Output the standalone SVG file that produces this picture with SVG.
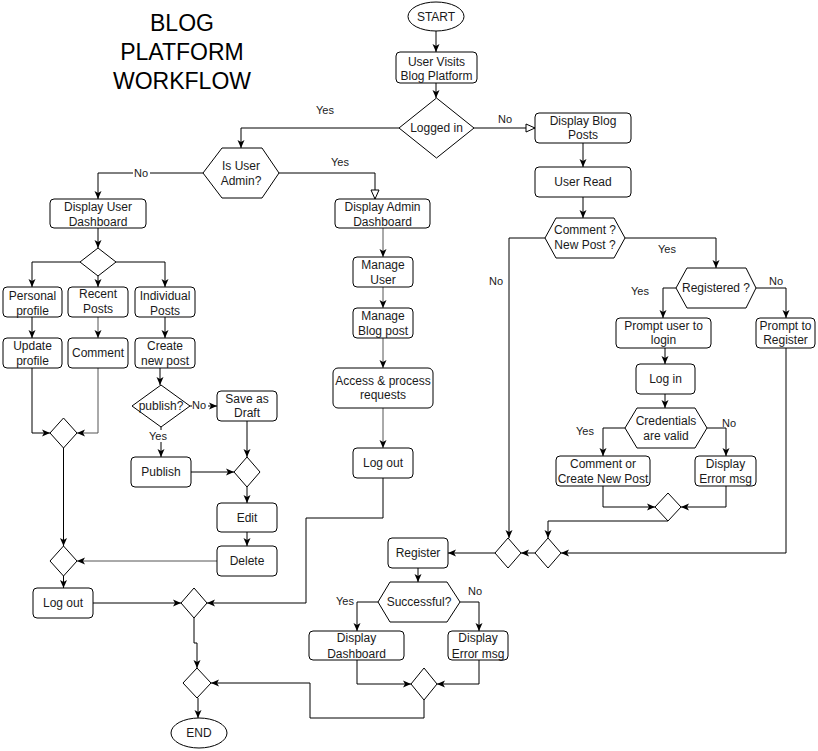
<svg xmlns="http://www.w3.org/2000/svg" width="818" height="751" viewBox="0 0 818 751">
<style>
.n rect,.n polygon,.n ellipse{fill:#fff;stroke:#000;stroke-width:1}
text{font-family:"Liberation Sans",Arial,sans-serif;font-size:12px;fill:#1a1a1a;text-anchor:middle}
.t{font-size:23px;fill:#000}
.l{font-size:11px}
.c path{fill:none;stroke:#000;stroke-width:1;marker-end:url(#a)}
.c path.o{marker-end:url(#o)}
.c path.g{stroke:#555}
.bg{fill:#fff;stroke:none}
</style>
<defs>
<marker id="a" markerWidth="10" markerHeight="10" refX="9" refY="5" orient="auto" markerUnits="userSpaceOnUse"><path d="M1,1.5 L9,5 L1,8.5 L3,5 z" fill="#000" stroke="none"/></marker>
<marker id="o" markerWidth="12" markerHeight="12" refX="10" refY="6" orient="auto" markerUnits="userSpaceOnUse"><path d="M1,2 L10,6 L1,10 z" fill="#fff" stroke="#000" stroke-width="1"/></marker>
</defs>
<rect width="818" height="751" fill="#fff"/>
<g id="title"><text class="t" x="182" y="31">BLOG</text><text class="t" x="182" y="60">PLATFORM</text><text class="t" x="182" y="89">WORKFLOW</text></g>

<g id="connectors" class="c">
<path d="M436,31 V52"/>
<path d="M436,83 V98"/>
<path class="o" d="M474,128 H535"/>
<path d="M399,128 H241 V148"/>
<path d="M583,143 V167"/>
<path d="M583,197 V218"/>
<path d="M625,238 H716 V268"/>
<path d="M545,238 H509 V538"/>
<path d="M676,288 H663 V318"/>
<path d="M756,288 H786 V318"/>
<path d="M665,348 V364"/>
<path d="M665,394 V408"/>
<path d="M625,428 H603 V456"/>
<path d="M707,428 H726 V456"/>
<path d="M603,486 V507 H655"/>
<path d="M726,486 V507 H681"/>
<path d="M668,521 H548 V538"/>
<path d="M786,348 V553 H561"/>
<path d="M535,553 H521"/>
<path d="M495,553 H448"/>
<path d="M418,568 V582"/>
<path d="M378,602 H357 V631"/>
<path d="M460,602 H479 V631"/>
<path d="M357,660 V684 H411"/>
<path d="M479,660 V684 H437"/>
<path d="M424,700 V718 H310 V683 H211"/>
<path d="M198,698 V718"/>
<path class="o" d="M279,173 H375 V199"/>
<path d="M203,173 H98 V199"/>
<path d="M98,228 V248"/>
<path d="M80,262 H32 V287"/>
<path d="M98,276 V287"/>
<path d="M116,262 H165 V287"/>
<path d="M32,317 V338"/>
<path class="g" d="M98,317 V338"/>
<path d="M165,317 V338"/>
<path d="M32,368 V433 H50"/>
<path class="g" d="M98,368 V433 H77"/>
<path d="M63.5,448 V546"/>
<path d="M160,368 V385"/>
<path d="M190,406 H217"/>
<path d="M161,427 V457"/>
<path d="M247,421 V457"/>
<path d="M191,472 H234"/>
<path d="M247,487 V503"/>
<path d="M247,532 V546"/>
<path class="g" d="M217,561 H77"/>
<path d="M63.5,576 V588"/>
<path d="M93,603 H181"/>
<path d="M383,478 V518 H306 V603 H207"/>
<path d="M194,618 V643 H197 V668"/>
<path class="g" d="M383,228 V257"/>
<path class="g" d="M383,287 V308"/>
<path class="g" d="M383,338 V368"/>
<path class="g" d="M383,408 V448"/>
</g>

<g id="labels">
<text class="l" x="325" y="114">Yes</text>
<text class="l" x="505" y="123">No</text>
<text class="l" x="340" y="166">Yes</text>
<rect class="bg" x="133" y="167" width="17" height="12"/><text class="l" x="141" y="177">No</text>
<text class="l" x="667" y="253">Yes</text>
<text class="l" x="496" y="285">No</text>
<text class="l" x="640" y="295">Yes</text>
<text class="l" x="776" y="285">No</text>
<text class="l" x="585" y="435">Yes</text>
<text class="l" x="729" y="427">No</text>
<text class="l" x="345" y="605">Yes</text>
<text class="l" x="475" y="595">No</text>
<rect class="bg" x="192" y="399" width="16" height="12"/><text class="l" x="199" y="409">No</text>
<rect class="bg" x="149" y="430" width="19" height="12"/><text class="l" x="158" y="440">Yes</text>
</g>

<g id="start" class="n"><ellipse cx="436" cy="16.5" rx="28" ry="14.5"/><text x="436" y="21">START</text></g>
<g id="visit" class="n"><rect x="396" y="52" width="81" height="31" rx="4"/><text x="436.5" y="65.5">User Visits</text><text x="436.5" y="79.5">Blog Platform</text></g>
<g id="logged" class="n"><polygon points="436.5,98 474,128 436.5,158 399,128"/><text x="436.5" y="132">Logged in</text></g>
<g id="blogposts" class="n"><rect x="535" y="113" width="96" height="30" rx="4"/><text x="583" y="125">Display Blog</text><text x="583" y="139">Posts</text></g>
<g id="userread" class="n"><rect x="535" y="167" width="96" height="30" rx="4"/><text x="583" y="186">User Read</text></g>
<g id="commentq" class="n"><polygon points="545,238 556,218 614,218 625,238 614,258 556,258"/><text x="585" y="234">Comment ?</text><text x="585" y="249">New Post ?</text></g>
<g id="registered" class="n"><polygon points="676,288 687,268 746,268 756,288 746,308 687,308"/><text x="716" y="292">Registered ?</text></g>
<g id="promptlogin" class="n"><rect x="616" y="318" width="95" height="30" rx="4"/><text x="663.5" y="330">Prompt user to</text><text x="663.5" y="344">login</text></g>
<g id="promptreg" class="n"><rect x="756" y="318" width="59" height="30" rx="4"/><text x="785.5" y="330">Prompt to</text><text x="785.5" y="344">Register</text></g>
<g id="login" class="n"><rect x="636" y="364" width="59" height="30" rx="4"/><text x="665.5" y="383">Log in</text></g>
<g id="cred" class="n"><polygon points="625,428 637,408 695,408 707,428 695,448 637,448"/><text x="666" y="425">Credentials</text><text x="666" y="440">are valid</text></g>
<g id="commentcreate" class="n"><rect x="556" y="456" width="94" height="30" rx="4"/><text x="603" y="468">Comment or</text><text x="603" y="483">Create New Post</text></g>
<g id="err1" class="n"><rect x="695" y="456" width="61" height="30" rx="4"/><text x="725.5" y="468">Display</text><text x="725.5" y="483">Error msg</text></g>
<g id="m1" class="n"><polygon points="668,493 681,507 668,521 655,507"/></g>
<g id="d2" class="n"><polygon points="548,538 561,553 548,568 535,553"/></g>
<g id="d1" class="n"><polygon points="508,538 521,553 508,568 495,553"/></g>
<g id="register" class="n"><rect x="388" y="538" width="60" height="30" rx="4"/><text x="418" y="557">Register</text></g>
<g id="success" class="n"><polygon points="378,602 390,582 447,582 460,602 447,622 390,622"/><text x="419" y="606">Successful?</text></g>
<g id="dash" class="n"><rect x="309" y="631" width="95" height="29" rx="4"/><text x="356.5" y="642">Display</text><text x="356.5" y="658">Dashboard</text></g>
<g id="err2" class="n"><rect x="448" y="631" width="60" height="29" rx="4"/><text x="478" y="642">Display</text><text x="478" y="658">Error msg</text></g>
<g id="m3" class="n"><polygon points="424,668 437,684 424,700 411,684"/></g>
<g id="endmerge" class="n"><polygon points="197,668 211,683 197,698 183,683"/></g>
<g id="end" class="n"><ellipse cx="199" cy="733" rx="28" ry="15"/><text x="199" y="737">END</text></g>
<g id="logoutmerge" class="n"><polygon points="194,588 207,603 194,618 181,603"/></g>
<g id="logout1" class="n"><rect x="33" y="588" width="60" height="30" rx="4"/><text x="63" y="607">Log out</text></g>

<g id="isadmin" class="n"><polygon points="203,173 222,148 262,148 279,173 262,198 222,198"/><text x="241" y="170">Is User</text><text x="241" y="185">Admin?</text></g>
<g id="userdash" class="n"><rect x="50" y="199" width="96" height="29" rx="4"/><text x="98" y="211">Display User</text><text x="98" y="226">Dashboard</text></g>
<g id="admindash" class="n"><rect x="335" y="199" width="95" height="29" rx="4"/><text x="382.5" y="211">Display Admin</text><text x="382.5" y="226">Dashboard</text></g>
<g id="dd" class="n"><polygon points="98,248 116,262 98,276 80,262"/></g>
<g id="personal" class="n"><rect x="3" y="287" width="59" height="30" rx="4"/><text x="32.5" y="300">Personal</text><text x="32.5" y="315">profile</text></g>
<g id="recent" class="n"><rect x="68" y="287" width="60" height="30" rx="4"/><text x="98" y="298">Recent</text><text x="98" y="313">Posts</text></g>
<g id="individual" class="n"><rect x="135" y="287" width="60" height="30" rx="4"/><text x="165" y="300">Individual</text><text x="165" y="315">Posts</text></g>
<g id="update" class="n"><rect x="3" y="338" width="59" height="30" rx="4"/><text x="32.5" y="350">Update</text><text x="32.5" y="365">profile</text></g>
<g id="comment" class="n"><rect x="68" y="338" width="60" height="30" rx="4"/><text x="98" y="357">Comment</text></g>
<g id="create" class="n"><rect x="135" y="338" width="60" height="30" rx="4"/><text x="165" y="350">Create</text><text x="165" y="365">new post</text></g>
<g id="merge1" class="n"><polygon points="63.5,418 77,433 63.5,448 50,433"/></g>
<g id="publishq" class="n"><polygon points="161,385 190,406 161,427 132,406"/><text x="161" y="410">publish?</text></g>
<g id="save" class="n"><rect x="217" y="391" width="60" height="30" rx="4"/><text x="247" y="403">Save as</text><text x="247" y="417">Draft</text></g>
<g id="publish" class="n"><rect x="131" y="457" width="60" height="30" rx="4"/><text x="161" y="476">Publish</text></g>
<g id="merge2" class="n"><polygon points="247,457 260,472 247,487 234,472"/></g>
<g id="edit" class="n"><rect x="217" y="503" width="60" height="29" rx="4"/><text x="247" y="522">Edit</text></g>
<g id="delete" class="n"><rect x="217" y="546" width="60" height="30" rx="4"/><text x="247" y="565">Delete</text></g>
<g id="merge3" class="n"><polygon points="63.5,546 77,561 63.5,576 50,561"/></g>
<g id="manageuser" class="n"><rect x="353" y="257" width="60" height="30" rx="4"/><text x="383" y="269">Manage</text><text x="383" y="284">User</text></g>
<g id="manageblog" class="n"><rect x="353" y="308" width="60" height="30" rx="4"/><text x="383" y="320">Manage</text><text x="383" y="335">Blog post</text></g>
<g id="access" class="n"><rect x="333" y="368" width="100" height="40" rx="5"/><text x="383" y="385">Access &amp; process</text><text x="383" y="399">requests</text></g>
<g id="logout2" class="n"><rect x="353" y="448" width="60" height="30" rx="4"/><text x="383" y="467">Log out</text></g>
</svg>
